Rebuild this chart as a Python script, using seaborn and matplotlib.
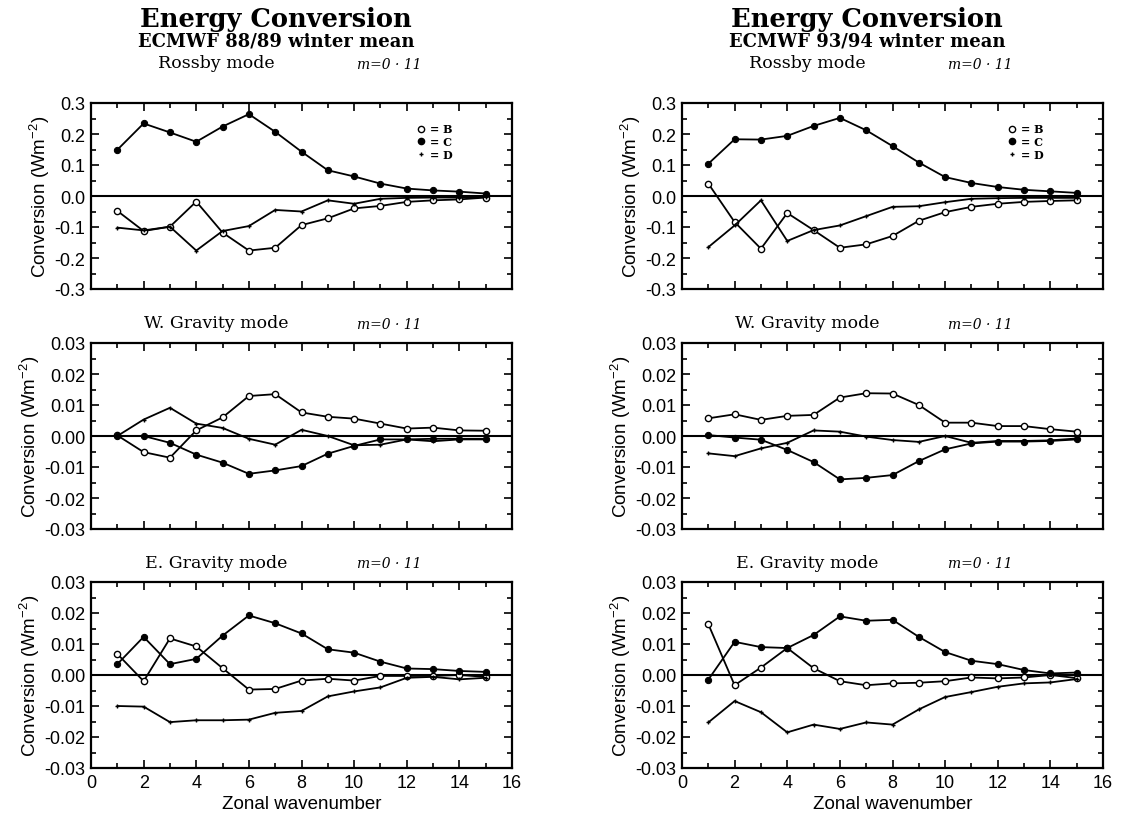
import numpy as np
import pandas as pd
import matplotlib
matplotlib.use("Agg")
import matplotlib.pyplot as plt
import seaborn as sns
from matplotlib.lines import Line2D
from matplotlib.ticker import MultipleLocator

# ---------------- data ----------------
wavenumber = list(range(1, 16))

# Rossby mode, 88/89
ross_8889_B = [-0.048, -0.113, -0.099, -0.018, -0.118, -0.176, -0.167, -0.094, -0.072, -0.040, -0.032, -0.019, -0.014, -0.011, -0.005]
ross_8889_C = [0.149, 0.234, 0.205, 0.175, 0.224, 0.264, 0.207, 0.143, 0.083, 0.063, 0.040, 0.024, 0.018, 0.014, 0.008]
ross_8889_D = [-0.102, -0.111, -0.099, -0.176, -0.113, -0.097, -0.045, -0.050, -0.014, -0.025, -0.009, -0.006, -0.005, -0.005, -0.003]
# Rossby mode, 93/94
ross_9394_B = [0.040, -0.084, -0.170, -0.055, -0.110, -0.167, -0.156, -0.129, -0.080, -0.052, -0.035, -0.025, -0.019, -0.016, -0.014]
ross_9394_C = [0.104, 0.183, 0.182, 0.194, 0.226, 0.252, 0.212, 0.161, 0.108, 0.061, 0.042, 0.029, 0.020, 0.015, 0.010]
ross_9394_D = [-0.165, -0.095, -0.014, -0.145, -0.110, -0.095, -0.065, -0.035, -0.033, -0.020, -0.009, -0.007, -0.006, -0.006, -0.006]
# W. Gravity mode, 88/89
wg_8889_B = [0.0002, -0.0052, -0.0070, 0.0018, 0.0060, 0.0129, 0.0135, 0.0076, 0.0062, 0.0056, 0.0040, 0.0024, 0.0027, 0.0018, 0.0017]
wg_8889_C = [0.0000, 0.0000, -0.0022, -0.0060, -0.0086, -0.0122, -0.0111, -0.0097, -0.0057, -0.0032, -0.0011, -0.0011, -0.0009, -0.0009, -0.0009]
wg_8889_D = [0.0000, 0.0053, 0.0091, 0.0040, 0.0026, -0.0009, -0.0028, 0.0020, 0.0000, -0.0030, -0.0028, -0.0011, -0.0017, -0.0011, -0.0011]
# W. Gravity mode, 93/94
wg_9394_B = [0.0057, 0.0070, 0.0052, 0.0065, 0.0068, 0.0124, 0.0138, 0.0137, 0.0100, 0.0043, 0.0043, 0.0032, 0.0032, 0.0022, 0.0014]
wg_9394_C = [0.0003, -0.0005, -0.0012, -0.0045, -0.0084, -0.0140, -0.0135, -0.0126, -0.0081, -0.0043, -0.0024, -0.0018, -0.0018, -0.0016, -0.0011]
wg_9394_D = [-0.0056, -0.0065, -0.0040, -0.0022, 0.0018, 0.0014, -0.0002, -0.0013, -0.0019, 0.0000, -0.0022, -0.0016, -0.0016, -0.0014, -0.0008]
# E. Gravity mode, 88/89
eg_8889_B = [0.0068, -0.0020, 0.0118, 0.0092, 0.0022, -0.0047, -0.0045, -0.0018, -0.0012, -0.0018, -0.0003, -0.0003, -0.0003, 0.0000, -0.0006]
eg_8889_C = [0.0035, 0.0123, 0.0035, 0.0052, 0.0127, 0.0192, 0.0167, 0.0134, 0.0083, 0.0072, 0.0043, 0.0021, 0.0019, 0.0013, 0.0010]
eg_8889_D = [-0.0100, -0.0102, -0.0152, -0.0146, -0.0146, -0.0144, -0.0122, -0.0116, -0.0069, -0.0053, -0.0040, -0.0009, -0.0006, -0.0014, -0.0009]
# E. Gravity mode, 93/94
eg_9394_B = [0.0164, -0.0033, 0.0024, 0.0087, 0.0022, -0.0020, -0.0033, -0.0027, -0.0025, -0.0020, -0.0008, -0.0011, -0.0008, 0.0000, -0.0010]
eg_9394_C = [-0.0015, 0.0107, 0.0090, 0.0087, 0.0129, 0.0189, 0.0175, 0.0178, 0.0123, 0.0074, 0.0046, 0.0035, 0.0016, 0.0005, 0.0008]
eg_9394_D = [-0.0153, -0.0084, -0.0120, -0.0185, -0.0160, -0.0174, -0.0153, -0.0160, -0.0111, -0.0071, -0.0055, -0.0038, -0.0027, -0.0024, -0.0013]

column_titles = ["ECMWF 88/89 winter mean", "ECMWF 93/94 winter mean"]
mode_titles = ["Rossby mode", "W. Gravity mode", "E. Gravity mode"]
series_names = ["B", "C", "D"]

panels = [
    [(ross_8889_B, ross_8889_C, ross_8889_D), (ross_9394_B, ross_9394_C, ross_9394_D)],
    [(wg_8889_B, wg_8889_C, wg_8889_D), (wg_9394_B, wg_9394_C, wg_9394_D)],
    [(eg_8889_B, eg_8889_C, eg_8889_D), (eg_9394_B, eg_9394_C, eg_9394_D)],
]
y_limits = [0.3, 0.03, 0.03]
y_steps = [0.1, 0.01, 0.01]
y_formats = ["{:.1f}", "{:.2f}", "{:.2f}"]

# ---------------- style ----------------
sns.set_theme(style="ticks")
plt.rcParams["font.family"] = ["Liberation Sans", "DejaVu Sans"]
plt.rcParams["axes.unicode_minus"] = False
plt.rcParams["mathtext.fontset"] = "custom"
plt.rcParams["mathtext.rm"] = "Liberation Sans"
plt.rcParams["mathtext.it"] = "Liberation Sans"
plt.rcParams["mathtext.default"] = "regular"
for key in ["text.color", "axes.labelcolor", "xtick.color", "ytick.color", "axes.edgecolor"]:
    plt.rcParams[key] = "black"

W, H = 1129, 820
fig = plt.figure(figsize=(W / 100, H / 100), dpi=100)

col_left_px = [91, 682]
col_width_px = 421
row_top_px = [104, 344, 583]
row_h_px = 186

marker_styles = {
    "B": dict(marker="o", markersize=4.5, markerfacecolor="white", markeredgecolor="black", markeredgewidth=1.0),
    "C": dict(marker="o", markersize=4.5, markerfacecolor="black", markeredgecolor="black"),
    "D": dict(marker="+", markersize=3.5, markeredgecolor="black", markeredgewidth=1.0),
}

serif = ["DejaVu Serif"]

for c in range(2):
    for r in range(3):
        left = col_left_px[c] / W
        bottom = 1 - (row_top_px[r] + row_h_px) / H
        ax = fig.add_axes([left, bottom, col_width_px / W, row_h_px / H])
        vals = panels[r][c]
        df = pd.DataFrame({
            "k": wavenumber * 3,
            "v": list(vals[0]) + list(vals[1]) + list(vals[2]),
            "s": ["B"] * 15 + ["C"] * 15 + ["D"] * 15,
        })
        for s in series_names:
            sns.lineplot(data=df[df["s"] == s], x="k", y="v", ax=ax, color="black",
                         linewidth=1.3, legend=False, **marker_styles[s])
        ax.axhline(0, color="black", linewidth=1.5, zorder=1)

        lim = y_limits[r]
        ax.set_xlim(0, 16)
        ax.set_ylim(-lim, lim)
        ax.xaxis.set_major_locator(MultipleLocator(2))
        ax.xaxis.set_minor_locator(MultipleLocator(1))
        ax.yaxis.set_major_locator(MultipleLocator(y_steps[r]))
        ax.yaxis.set_minor_locator(MultipleLocator(y_steps[r] / 2))
        yt = np.round(np.arange(-lim, lim + y_steps[r] / 2, y_steps[r]), 4)
        ax.set_yticks(yt)
        ax.set_yticklabels([y_formats[r].format(v) for v in yt])
        ax.tick_params(which="both", direction="in", top=True, right=True,
                       color="black", width=1.2, labelcolor="black")
        ax.tick_params(which="major", length=6, labelsize=13, pad=4)
        ax.tick_params(which="minor", length=3.5)
        for sp in ax.spines.values():
            sp.set_linewidth(1.6)
            sp.set_color("black")
        ax.set_ylabel("Conversion (Wm$^{-2}$)", fontsize=13.5, labelpad=2, color="black")
        if r == 2:
            ax.set_xlabel("Zonal wavenumber", fontsize=13.5, labelpad=3, color="black")
        else:
            ax.set_xlabel("")
            ax.set_xticklabels([])

        # mode title and wavenumber range
        title_y = row_top_px[r] - 20 if r > 0 else 64
        fig.text((col_left_px[c] + 125) / W, 1 - title_y / H, mode_titles[r],
                 family=serif, fontsize=12.5, ha="center", va="center", color="black")
        fig.text((col_left_px[c] + 298) / W, 1 - (title_y + 1) / H, "m=0 · 11",
                 family=serif, style="italic", fontsize=10, ha="center", va="center", color="black")

        if r == 0:
            handles = [Line2D([], [], linestyle="none", color="black", **marker_styles[s]) for s in series_names]
            leg = ax.legend(handles, ["= B", "= C", "= D"], loc="upper left",
                            bbox_to_anchor=(0.76, 0.92), frameon=False, handlelength=0.8,
                            handletextpad=0.4, labelspacing=0.15, borderpad=0,
                            prop={"family": serif, "weight": "bold", "size": 8})
            for t in leg.get_texts():
                t.set_color("black")

    cx = (col_left_px[c] + 0.44 * col_width_px) / W
    fig.text(cx, 1 - 19 / H, "Energy Conversion", family=serif, weight="bold",
             fontsize=18.5, ha="center", va="center", color="black")
    fig.text(cx, 1 - 42 / H, column_titles[c], family=serif, weight="bold",
             fontsize=13, ha="center", va="center", color="black")

fig.savefig("out.png", dpi=100)
